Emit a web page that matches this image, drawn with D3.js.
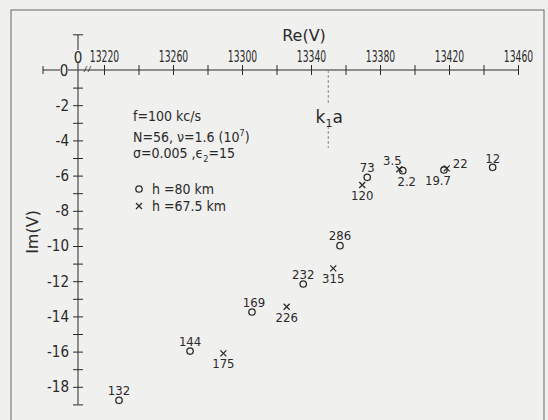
<!DOCTYPE html>
<html>
<head>
<meta charset="utf-8">
<script src="https://cdn.jsdelivr.net/npm/d3@7"></script>
<style>
  body { margin: 0; background: #f0f0ef; }
  svg text { font-family: "DejaVu Sans Condensed", "DejaVu Sans", sans-serif; fill: #2a2a2a; }
</style>
</head>
<body>
<div id="chart"></div>
<script>
// values
var reCircle = [13228.7, 13269.9, 13305.8, 13335.5, 13356.8, 13372.6, 13393.2, 13417.1, 13445.3];
var imCircle = [-18.77, -15.97, -13.75, -12.16, -9.98, -6.10, -5.72, -5.68, -5.53];
var circleLabels = ["132", "144", "169", "232", "286", "73", "2.2", "19.7", "12"];

var reCross = [13289.2, 13325.9, 13352.9, 13369.7, 13391.2, 13418.7];
var imCross = [-16.10, -13.45, -11.27, -6.53, -5.64, -5.59];
var crossLabels = ["175", "226", "315", "120", "3.5", "22"];

var reTicks = [13220, 13240, 13260, 13280, 13300, 13320, 13340, 13360, 13380, 13400, 13420, 13440, 13460];
var imTicks = [-1, -2, -3, -4, -5, -6, -7, -8, -9, -10, -11, -12, -13, -14, -15, -16, -17, -18, -19];
var k1a = 13350;

var INK = "#2a2a2a";
var BG = "#f0f0ef";

var W = 548, H = 420;
var svg = d3.select("#chart").append("svg").attr("width", W).attr("height", H);

svg.append("rect").attr("x", 11).attr("y", 10).attr("width", 533).attr("height", 430)
  .attr("fill", "none").attr("stroke", "#666").attr("stroke-width", 1);

var x = d3.scaleLinear().domain([13220, 13460]).range([104, 518]);
var y = d3.scaleLinear().domain([0, -19]).range([70, 404.4]);
var x0 = 78; // where the vertical axis sits (Re = 0, axis broken)

// horizontal axis
var gx = svg.append("g").attr("transform", "translate(0," + y(0) + ")");
gx.append("line").attr("x1", 43).attr("x2", x(13460)).attr("stroke", INK);
gx.append("line").attr("x1", 43).attr("x2", 43).attr("y1", -4).attr("y2", 4).attr("stroke", INK);

var xAxis = d3.axisTop(x).tickValues(reTicks).tickSize(0)
  .tickFormat(function(d){ return (d - 13220) % 40 === 0 ? d : ""; });
gx.append("g").call(xAxis).call(function(g){
  g.select(".domain").remove();
  g.selectAll(".tick line").attr("y1", -5).attr("y2", 5).attr("stroke", INK);
  // narrow lettering: squeeze the glyphs horizontally
  g.selectAll(".tick text").attr("y", -8).attr("font-size", 16)
    .attr("transform", "scale(0.64,1)")
    .style("font-family", "\"DejaVu Sans Condensed\", sans-serif").attr("fill", INK);
});

// break mark
svg.append("path")
  .attr("d", "M84,72 q1,-2 1.5,-3 q0.6,-1.5 1.5,-3 M88,72 q1,-2 1.5,-3 q0.6,-1.5 1.5,-3")
  .attr("fill", "none").attr("stroke", INK).attr("stroke-width", 0.8);

// vertical axis
var gy = svg.append("g").attr("transform", "translate(" + x0 + ",0)");
gy.append("line").attr("y1", y(2)).attr("y2", y(-19)).attr("stroke", INK);
gy.append("line").attr("x1", -5).attr("x2", 5).attr("y1", y(2)).attr("y2", y(2)).attr("stroke", INK);

var yAxis = d3.axisLeft(y).tickValues(imTicks).tickSize(0)
  .tickFormat(function(d){ return (d % 2 === 0) ? d : ""; });
gy.append("g").call(yAxis).call(function(g){
  g.select(".domain").remove();
  g.selectAll(".tick line").attr("x1", -5).attr("x2", 5).attr("stroke", INK);
  g.selectAll(".tick text").attr("x", -9).attr("font-size", 15)
    .text(function(d){ return d % 2 === 0 ? "-" + Math.abs(d) : ""; })
    .style("font-family", "\"DejaVu Sans Condensed\", sans-serif").attr("fill", INK);
});

// the two zero labels, sitting on the axis lines
function zeroLabel(cx, cy){
  svg.append("rect").attr("x", cx - 4).attr("y", cy - 7).attr("width", 8).attr("height", 13).attr("fill", BG);
  svg.append("text").attr("x", cx).attr("y", cy + 5.5).attr("text-anchor", "middle")
    .attr("font-size", 15).text("0");
}
zeroLabel(64, y(0));
zeroLabel(x0, 57);

// axis titles
svg.append("text").attr("x", 304).attr("y", 41).attr("text-anchor", "middle")
  .attr("font-size", 16).style("font-family", "\"DejaVu Sans\", sans-serif").text("Re(V)");
svg.append("text").attr("transform", "translate(38,232) rotate(-90)").attr("text-anchor", "middle")
  .attr("font-size", 16).style("font-family", "\"DejaVu Sans\", sans-serif").text("Im(V)");

// k1a marker
var xk = x(k1a);
svg.append("line").attr("x1", xk).attr("x2", xk).attr("y1", y(0)).attr("y2", 105)
  .attr("stroke", "#888").attr("stroke-dasharray", "3,2");
svg.append("line").attr("x1", xk).attr("x2", xk).attr("y1", 126).attr("y2", 148)
  .attr("stroke", "#888").attr("stroke-dasharray", "3,2");
var kt = svg.append("text").attr("x", xk + 1).attr("y", 123).attr("text-anchor", "middle")
  .attr("font-size", 17).style("font-family", "\"DejaVu Sans\", sans-serif");
kt.append("tspan").text("k");
kt.append("tspan").attr("font-size", 11).attr("dy", 4).text("1");
kt.append("tspan").attr("dy", -4).text("a");

// parameter block
svg.append("text").attr("x", 133).attr("y", 121).attr("font-size", 14).text("f=100 kc/s");
var t2 = svg.append("text").attr("x", 133).attr("y", 142).attr("font-size", 14);
t2.append("tspan").text("N=56, \u03bd=1.6 (10");
t2.append("tspan").attr("font-size", 9).attr("dy", -6).text("7");
t2.append("tspan").attr("dy", 6).text(")");
var t3 = svg.append("text").attr("x", 133).attr("y", 158).attr("font-size", 14);
t3.append("tspan").text("\u03c3=0.005 ,\u03f5");
t3.append("tspan").attr("font-size", 9).attr("dy", 4).text("2");
t3.append("tspan").attr("dy", -4).text("=15");

// legend
svg.append("circle").attr("cx", 139).attr("cy", 189).attr("r", 3.2)
  .attr("fill", "none").attr("stroke", INK).attr("stroke-width", 1.3);
svg.append("text").attr("x", 152).attr("y", 194).attr("font-size", 14).text("h =80 km");
svg.append("path").attr("d", "M136,203 l6,6 M136,209 l6,-6")
  .attr("stroke", INK).attr("stroke-width", 1.3);
svg.append("text").attr("x", 152).attr("y", 211).attr("font-size", 14).text("h =67.5 km");

// label placement: [dx, dy, anchor] relative to the mark
var nudge = {
  "2.2": [4, 15, "middle"], "19.7": [-6, 15, "middle"], "12": [0, -4, "middle"],
  "3.5": [-7, -4.5, "middle"], "22": [6, 0, "start"], "169": [2, -5.5, "middle"]
};

var circles = reCircle.map(function(v, i){ return {re: v, im: imCircle[i], lab: circleLabels[i]}; });
var crosses = reCross.map(function(v, i){ return {re: v, im: imCross[i], lab: crossLabels[i]}; });

svg.append("g").selectAll("circle").data(circles).enter().append("circle")
  .attr("cx", function(d){ return x(d.re); })
  .attr("cy", function(d){ return y(d.im); })
  .attr("r", 3.2).attr("fill", "none").attr("stroke", INK).attr("stroke-width", 1.3);

svg.append("g").selectAll("path").data(crosses).enter().append("path")
  .attr("d", function(d){
    var cx = x(d.re), cy = y(d.im);
    return "M" + (cx - 3) + "," + (cy - 3) + "l6,6M" + (cx - 3) + "," + (cy + 3) + "l6,-6";
  })
  .attr("stroke", INK).attr("stroke-width", 1.3);

function addLabels(data, def){
  svg.append("g").selectAll("text").data(data).enter().append("text")
    .attr("x", function(d){ return x(d.re) + (nudge[d.lab] || def)[0]; })
    .attr("y", function(d){ return y(d.im) + (nudge[d.lab] || def)[1]; })
    .attr("text-anchor", function(d){ return (nudge[d.lab] || def)[2]; })
    .attr("font-size", 13)
    .text(function(d){ return d.lab; });
}
addLabels(circles, [0, -5.5, "middle"]);
addLabels(crosses, [0, 15, "middle"]);
</script>
</body>
</html>
